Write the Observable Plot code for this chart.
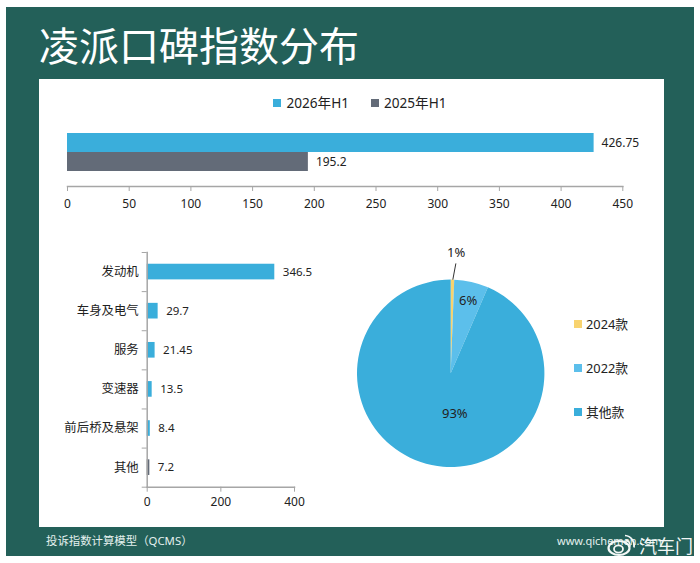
<!DOCTYPE html>
<html><head><meta charset="utf-8">
<script src="https://cdn.jsdelivr.net/npm/d3@7"></script>
<script src="https://cdn.jsdelivr.net/npm/@observablehq/plot@0.6"></script>
<style>
html,body{margin:0;padding:0;background:#fff}
#page{position:relative;width:700px;height:563px;overflow:hidden;font-family:"Noto Sans","Noto Sans CJK SC",sans-serif;color:#222}
.abs{position:absolute;white-space:nowrap}
.abs svg{display:block}
#bg{left:6px;top:7px;width:688px;height:549px;background:#236059}
#panel{left:39px;top:79px;width:625px;height:448px;background:#fff}
#title{left:39px;top:16px;font:400 40px/56px "Noto Sans CJK SC",sans-serif;color:#fff}
.sw{position:absolute;width:8px;height:8px}
.lg{position:absolute;line-height:18px;white-space:nowrap}
.foot{position:absolute;color:#e4f0ee;font-size:11.4px;line-height:16px;white-space:nowrap}
</style></head><body>
<div id="page">
  <div class="abs" id="bg"></div>
  <div class="abs" id="panel"></div>
  <div class="abs" id="title"></div>
  <div class="abs" id="top"></div>
  <div class="abs" id="left"></div>
  <div class="abs" id="pie"></div>
  <div id="legends"></div>
  <div class="foot" style="left:46px;top:533px" id="footL"></div>
  <div class="foot" style="left:557px;top:533px;font-size:11px" id="footR"></div>
  <svg class="abs" style="left:606px;top:532px" width="32" height="25" viewBox="0 0 32 25" fill="none" stroke="#f4f8f7">
    <ellipse cx="13" cy="16" rx="10.5" ry="7" stroke-width="2.2"/>
    <ellipse cx="12.5" cy="17" rx="4.5" ry="3.6" stroke-width="1.8"/>
    <path d="M19 3.5a10 10 0 0 1 9 12" stroke-width="1.7"/>
    <path d="M19.5 8a5.5 5.5 0 0 1 4.5 6.5" stroke-width="1.5"/>
  </svg>
  <div class="foot" style="left:639px;top:532px;font-size:18px;line-height:26px;color:#f2f6f5;font-family:'Noto Sans CJK SC'" id="mark"></div>
</div>
<script>
const titleText = "凌派口碑指数分布";
const footLeft = "投诉指数计算模型（QCMS）";
const footRight = "www.qichemen.com";
const watermark = "汽车门";

const periods = ["2026年H1", "2025年H1"];
const periodValues = [426.75, 195.2];
const periodColors = ["#3aaedb", "#636b78"];

const parts = ["发动机", "车身及电气", "服务", "变速器", "前后桥及悬架", "其他"];
const partValues = [346.5, 29.7, 21.45, 13.5, 8.4, 7.2];
const partColors = ["#3aaedb", "#3aaedb", "#3aaedb", "#3aaedb", "#3aaedb", "#636b78"];

const models = ["2024款", "2022款", "其他款"];
const modelValues = [0.6, 5.9, 93.5];
const modelLabels = ["1%", "6%", "93%"];
const modelColors = ["#f8d36f", "#5cbfeb", "#3aaedb"];

const FONT = '"Noto Sans","Noto Sans CJK SC",sans-serif';
const AXIS = "#a6a6a6", INK = "#222";
const $ = id => document.getElementById(id);
$("title").textContent = titleText;
$("footL").textContent = footLeft;
$("footR").textContent = footRight;
$("mark").textContent = watermark;

function place(id, plot, left, top) {
  const el = $(id); el.style.left = left + "px"; el.style.top = top + "px"; el.appendChild(plot);
}

// Top chart
const topData = periods.map((p, i) => ({p, v: periodValues[i], c: periodColors[i]}));
place("top", Plot.plot({
  width: 625, height: 100,
  marginLeft: 28, marginRight: 41.7, marginTop: 12, marginBottom: 34,
  style: {fontFamily: FONT, fontSize: "12px", color: INK, background: "transparent"},
  x: {domain: [0, 450], ticks: d3.range(0, 451, 50)},
  y: {domain: periods, range: [12, 51.5], padding: 0, axis: null},
  marks: [
    Plot.barX(topData, {x: "v", y: "p", fill: "c"}),
    Plot.text(topData, {x: "v", y: "p", text: d => String(d.v), textAnchor: "start", dx: 7.5, fontSize: 12, fill: INK}),
    Plot.frame({anchor: "bottom", stroke: AXIS, strokeWidth: 1.5}),
    Plot.axisX({ticks: d3.range(0, 451, 50), tickSize: 5, tickPadding: 8, stroke: AXIS, tickFormat: d => d, fill: INK, label: null, fontSize: 12})
  ]
}), 39, 120);

// Lower left chart
const partData = parts.map((p, i) => ({p, i, v: partValues[i], c: partColors[i]}));
place("left", Plot.plot({
  width: 300, height: 270,
  marginLeft: 107.7, marginRight: 45, marginTop: 10, marginBottom: 25.3,
  style: {fontFamily: FONT, fontSize: "11.5px", color: INK, background: "transparent"},
  x: {domain: [0, 400], ticks: [0, 200, 400]},
  y: {domain: [6, 0], ticks: d3.range(0, 7)},
  marks: [
    Plot.rectX(partData, {x1: 0, x2: "v", y1: d => d.i + 0.3, y2: d => d.i + 0.7, fill: "c"}),
    Plot.text(partData, {x: "v", y: d => d.i + 0.5, text: d => String(d.v), textAnchor: "start", dx: 8, fill: INK, fontSize: 11.5}),
    Plot.axisY({ticks: d3.range(0, 7), tickSize: 5, tickFormat: () => "", stroke: AXIS, label: null}),
    Plot.axisY({ticks: parts.map((_, i) => i + 0.5), tickSize: 0, tickPadding: 8.5, tickFormat: d => parts[Math.floor(d)], fill: INK, label: null, fontSize: 12.4}),
    Plot.frame({anchor: "left", stroke: AXIS, strokeWidth: 1.5}),
    Plot.frame({anchor: "bottom", stroke: AXIS, strokeWidth: 1.5}),
    Plot.axisX({ticks: [0, 200, 400], tickSize: 5, tickPadding: 5, stroke: AXIS, fill: INK, label: null, tickFormat: d => d, fontSize: 12})
  ]
}), 39, 242);

// Pie: a custom Plot mark built from d3.pie over the values
const pieLeft = 345, pieTop = 230;
const pieW = 230, pieH = 250, R = 93.7, cx = 450.7 - pieLeft, cy = 373.3 - pieTop;
const arcs = d3.pie().sort(null)(modelValues);
const pieMark = () => {
  const g = d3.create("svg:g").attr("transform", `translate(${cx},${cy})`);
  g.selectAll("path").data(arcs).join("path")
    .attr("d", d3.arc().innerRadius(0).outerRadius(R))
    .attr("fill", (d, i) => modelColors[i]);
  return g.node();
};
place("pie", Plot.plot({
  width: pieW, height: pieH, margin: 0,
  style: {fontFamily: FONT, background: "transparent", color: INK},
  x: {domain: [0, pieW], range: [0, pieW], axis: null},
  y: {domain: [0, pieH], range: [0, pieH], axis: null},
  marks: [
    pieMark,
    Plot.line([[cx + 1.7, cy - 94.5], [cx + 4.6, cy - 110]], {x: d => d[0], y: d => d[1], stroke: "#333", strokeWidth: 1}),
    Plot.text([modelLabels[0]], {x: cx + 5, y: cy - 120.5, text: d => d, fontSize: 13, fill: INK}),
    Plot.text([modelLabels[1]], {x: cx + 17, y: cy - 73.3, text: d => d, fontSize: 13, fill: INK}),
    Plot.text([modelLabels[2]], {x: cx + 3.6, y: cy + 40.4, text: d => d, fontSize: 13, fill: INK})
  ]
}), pieLeft, pieTop);

// Legends
const legends = $("legends");
function legend(text, color, sx, sy, tx, size) {
  const s = document.createElement("div"); s.className = "sw";
  s.style.cssText = `left:${sx}px;top:${sy - 4}px;background:${color}`;
  const t = document.createElement("div"); t.className = "lg"; t.textContent = text;
  t.style.left = tx + "px"; t.style.top = (sy - 9) + "px"; t.style.fontSize = size + "px";
  legends.append(s, t);
}
legend(periods[0], periodColors[0], 273, 103, 286.5, 13.6);
legend(periods[1], periodColors[1], 370.5, 103, 384, 13.6);
[324, 367.7, 411.7].forEach((y, i) => legend(models[i], modelColors[i], 574, y, 586, 12.8));
</script>
</body></html>
